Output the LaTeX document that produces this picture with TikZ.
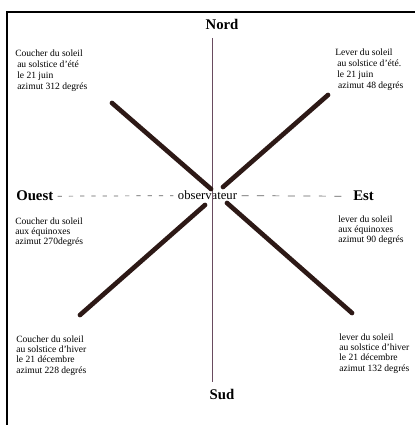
\documentclass[tikz,border=0pt]{standalone}
\usepackage{fontspec}
\setmainfont{Liberation Serif}
\usepackage{xcolor}
\usepackage{tikz}
\definecolor{trait}{RGB}{45,25,22}
\definecolor{axe}{RGB}{105,75,95}
\definecolor{tiret}{RGB}{95,95,95}

\begin{document}
\begin{tikzpicture}[x=0.025cm,y=-0.025cm,
  pt/.style={font=\bfseries\fontsize{10.5}{12}\selectfont,inner sep=0pt},
  txt/.style={font=\fontsize{6.8}{7.8}\selectfont,align=left,inner sep=0pt,anchor=north west},
  txtb/.style={txt,font=\fontsize{6.8}{7.3}\selectfont},
  soleil/.style={draw=trait,line width=3.3pt,line cap=round}]
\useasboundingbox (0,0) rectangle (415,425);
\draw[line width=1.5pt] (7,425) -- (7,12) -- (415,12);

\node[pt,anchor=base] (nord) at (222,30) {Nord};
\node[pt,anchor=base] (sud) at (222,399) {Sud};
\node[pt,anchor=base west] (ouest) at (16,201) {Ouest};
\node[pt,anchor=base west] (est) at (353,201) {Est};
\node[font=\fontsize{9}{10}\selectfont,inner sep=3pt,anchor=base] (obs) at (207.5,200) {observateur};

\coordinate (haut) at (212,38);
\coordinate (bas) at (212,382);
\draw[axe,line width=0.5pt] (haut) -- (bas);

\draw[tiret,line width=0.5pt,dash pattern=on 3pt off 5pt] ([xshift=3pt]ouest.east) -- (obs.west);
\draw[tiret,line width=0.5pt,dash pattern=on 5pt off 6pt] (obs.east) -- ([xshift=-4pt]est.west);

\coordinate (no1) at (112,103);
\coordinate (no2) at (211,189);
\coordinate (ne1) at (328,95);
\coordinate (ne2) at (223,187);
\coordinate (so1) at (205,205);
\coordinate (so2) at (80,315);
\coordinate (se1) at (227,203);
\coordinate (se2) at (352,313);
\draw[soleil] (no1) -- (no2);
\draw[soleil] (ne1) -- (ne2);
\draw[soleil] (so1) -- (so2);
\draw[soleil] (se1) -- (se2);

\node[txt] (tno) at (15,49.5) {Coucher du soleil\\\hspace*{1.4pt}au solstice d'été\\\hspace*{1.4pt}le 21 juin\\\hspace*{1.4pt}azimut 312 degrés};
\node[txt] (tne) at (335,49) {Lever du soleil\\\hspace*{1.4pt}au solstice d'été.\\\hspace*{1.4pt}le 21 juin\\\hspace*{2pt}azimut 48 degrés};
\node[txtb] (to) at (15,217.5) {Coucher du soleil\\aux équinoxes\\azimut 270degrés};
\node[txtb] (te) at (338,215.5) {lever du soleil\\aux équinoxes\\azimut 90 degrés};
\node[txtb] (tso) at (16,335.5) {Coucher du soleil\\au solstice d'hiver\\le 21 décembre\\azimut 228 degrés};
\node[txtb] (tse) at (339,333.5) {lever du soleil\\au solstice d'hiver\\le 21 décembre\\azimut 132 degrés};
\end{tikzpicture}
\end{document}
